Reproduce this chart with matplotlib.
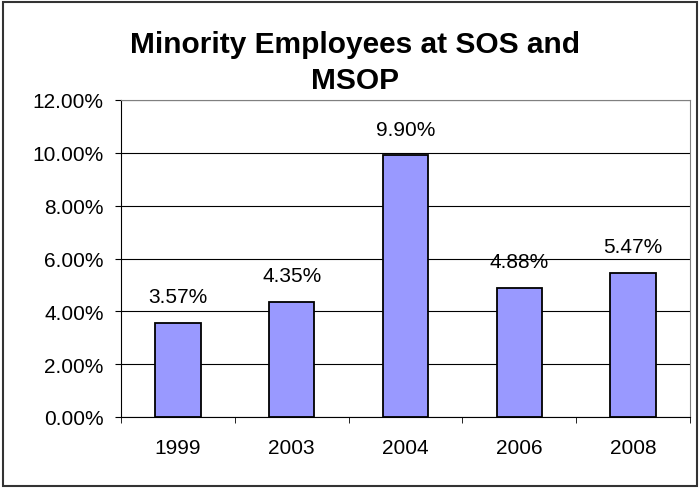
import matplotlib.pyplot as plt
import matplotlib.ticker as mtick
from matplotlib.patches import Rectangle

years = ["1999", "2003", "2004", "2006", "2008"]
minority_pct = [3.57, 4.35, 9.90, 4.88, 5.47]
yticks = [0, 2, 4, 6, 8, 10, 12]

plt.rcParams["font.family"] = ["Liberation Sans", "DejaVu Sans"]

W, H = 699, 489
fig = plt.figure(figsize=(W / 100, H / 100), dpi=100)
ax = fig.add_axes([121 / W, (H - 418) / H, 569 / W, 317 / H])

# outer chart border
fig.patches.append(Rectangle((3 / W, 2 / H), 694 / W, 484 / H,
                             transform=fig.transFigure, fill=False,
                             edgecolor="#333333", linewidth=1.5))

x = range(len(years))
ax.bar(x, minority_pct, width=0.4, color="#9999FF", edgecolor="black",
       linewidth=1.3, zorder=3)

for i, v in enumerate(minority_pct):
    ax.annotate(f"{v:.2f}%", (i, v), xytext=(0, 19), textcoords="offset points",
                ha="center", va="center", fontsize=15)

ax.set_xlim(-0.5, len(years) - 0.5)
ax.set_ylim(0, 12)
ax.set_yticks(yticks)
ax.yaxis.set_major_formatter(mtick.FuncFormatter(lambda v, _: f"{v:.2f}%"))
ax.set_xticks(x)
ax.set_xticklabels(years)
ax.set_xticks([i - 0.5 for i in range(len(years) + 1)], minor=True)
ax.tick_params(axis="x", which="major", length=0, pad=15, labelsize=15)
ax.tick_params(axis="x", which="minor", length=4.5, direction="out")
ax.tick_params(axis="y", length=4.5, direction="out", labelsize=15, pad=8)

ax.grid(axis="y", color="black", linewidth=0.8, zorder=1)
ax.spines["top"].set_color("#808080")
ax.spines["right"].set_color("#808080")
for s in ("left", "bottom"):
    ax.spines[s].set_color("black")

fig.text(355 / W, 1 - 31 / H, "Minority Employees at SOS and\nMSOP",
         ha="center", va="top", fontsize=21.5, fontweight="bold",
         linespacing=1.38)

fig.savefig("out.png", dpi=100)
